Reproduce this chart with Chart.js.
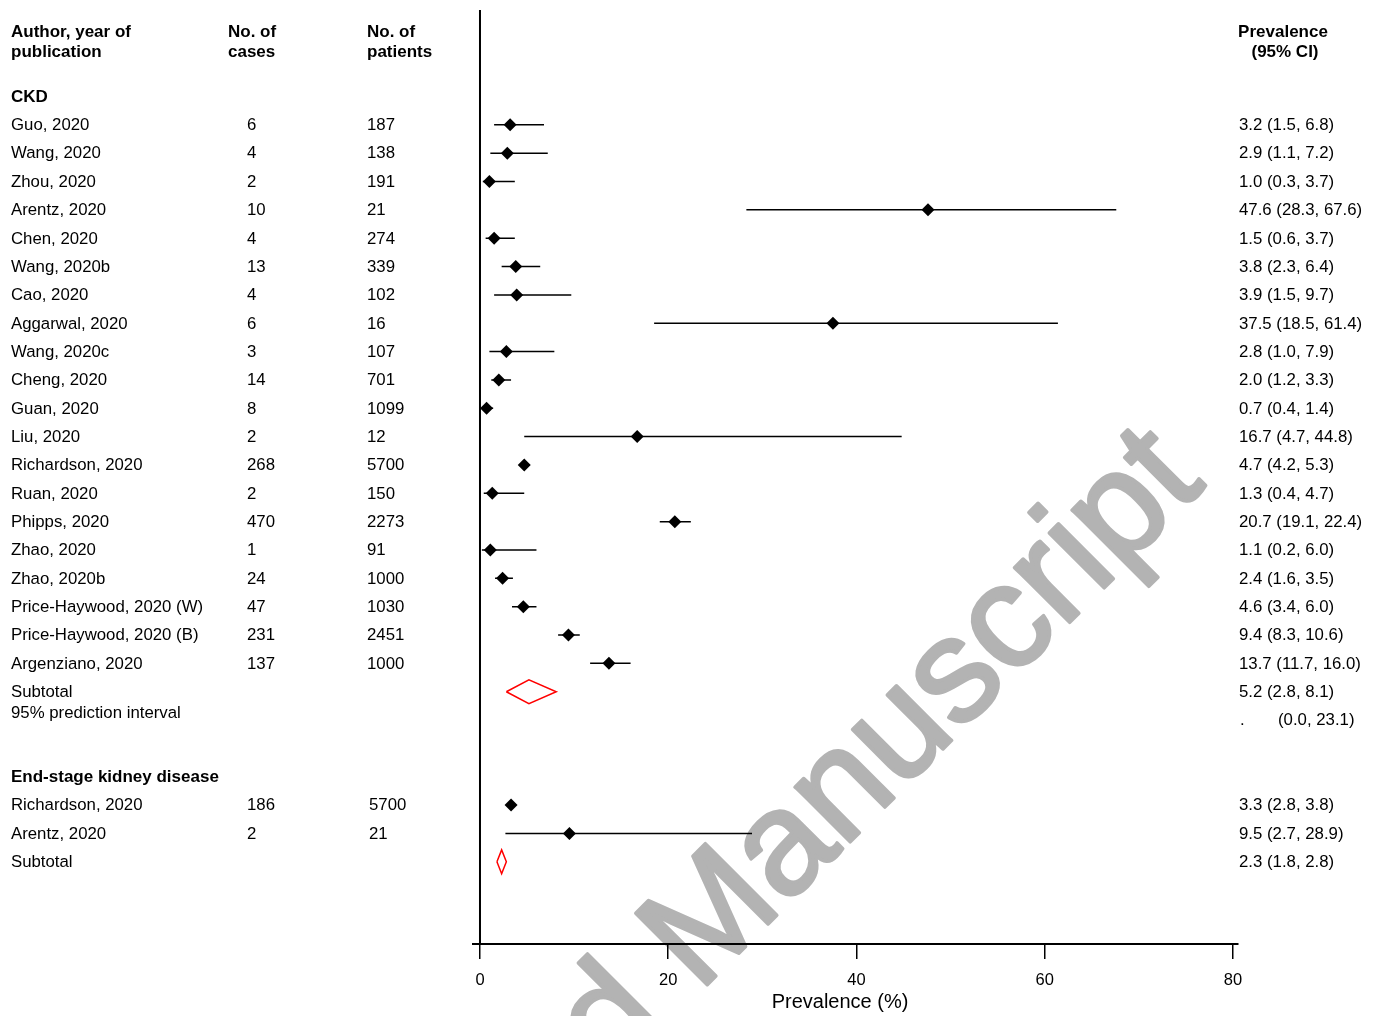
<!DOCTYPE html>
<html>
<head>
<meta charset="utf-8">
<title>Prevalence of kidney disease</title>
<script src="https://cdn.jsdelivr.net/npm/chart.js@4.4.1/dist/chart.umd.min.js"></script>
<style>
  html, body { margin: 0; padding: 0; background: #fff; }
  canvas { display: block; }
</style>
</head>
<body>
<canvas id="forest" width="1382" height="1016"></canvas>
<script>
// CKD studies
let ckdStudies = ['Guo, 2020', 'Wang, 2020', 'Zhou, 2020', 'Arentz, 2020', 'Chen, 2020', 'Wang, 2020b', 'Cao, 2020',
    'Aggarwal, 2020', 'Wang, 2020c', 'Cheng, 2020', 'Guan, 2020', 'Liu, 2020', 'Richardson, 2020', 'Ruan, 2020',
    'Phipps, 2020', 'Zhao, 2020', 'Zhao, 2020b', 'Price-Haywood, 2020 (W)', 'Price-Haywood, 2020 (B)', 'Argenziano, 2020'];
let ckdCases = [6, 4, 2, 10, 4, 13, 4, 6, 3, 14, 8, 2, 268, 2, 470, 1, 24, 47, 231, 137];
let ckdPatients = [187, 138, 191, 21, 274, 339, 102, 16, 107, 701, 1099, 12, 5700, 150, 2273, 91, 1000, 1030, 2451, 1000];
let ckdPrev = [3.2, 2.9, 1.0, 47.6, 1.5, 3.8, 3.9, 37.5, 2.8, 2.0, 0.7, 16.7, 4.7, 1.3, 20.7, 1.1, 2.4, 4.6, 9.4, 13.7];
let ckdLow = [1.5, 1.1, 0.3, 28.3, 0.6, 2.3, 1.5, 18.5, 1.0, 1.2, 0.4, 4.7, 4.2, 0.4, 19.1, 0.2, 1.6, 3.4, 8.3, 11.7];
let ckdHigh = [6.8, 7.2, 3.7, 67.6, 3.7, 6.4, 9.7, 61.4, 7.9, 3.3, 1.4, 44.8, 5.3, 4.7, 22.4, 6.0, 3.5, 6.0, 10.6, 16.0];

// end-stage kidney disease studies
let eskdStudies = ['Richardson, 2020', 'Arentz, 2020'];
let eskdCases = [186, 2];
let eskdPatients = [5700, 21];
let eskdPrev = [3.3, 9.5];
let eskdLow = [2.8, 2.7];
let eskdHigh = [3.8, 28.9];

// pooled estimates: CKD, end-stage
let subtotalPrev = [5.2, 2.3];
let subtotalLow = [2.8, 1.8];
let subtotalHigh = [8.1, 2.8];
let predictionLow = 0.0;
let predictionHigh = 23.1;

let xTicks = [0, 20, 40, 60, 80];

// row index of each line in the plot (0 = CKD header)
let ckdRows = ckdStudies.map((s, i) => i + 1);
let eskdRows = eskdStudies.map((s, i) => 25 + i);
let subtotalRows = [21, 27];

let studies = [];
ckdStudies.forEach((s, i) => studies.push({name: s, cases: ckdCases[i], patients: ckdPatients[i],
    prev: ckdPrev[i], low: ckdLow[i], high: ckdHigh[i], row: ckdRows[i]}));
eskdStudies.forEach((s, i) => studies.push({name: s, cases: eskdCases[i], patients: eskdPatients[i],
    prev: eskdPrev[i], low: eskdLow[i], high: eskdHigh[i], row: eskdRows[i]}));

let fmt = v => v.toFixed(1);

let pointData = studies.map(s => ({x: s.prev, y: s.row}));
let ciData = [];
studies.forEach(s => {
    ciData.push({x: s.low, y: s.row}, {x: s.high, y: s.row}, {x: null, y: null});
});
let diamondData = [];
subtotalPrev.forEach((p, i) => {
    let r = subtotalRows[i];
    diamondData.push({x: subtotalLow[i], y: r}, {x: p, y: r - 0.42}, {x: subtotalHigh[i], y: r},
        {x: p, y: r + 0.42}, {x: subtotalLow[i], y: r}, {x: null, y: null});
});

const FONT = '"Liberation Sans", Arial, sans-serif';

//text columns, watermark and the vertical axis line
const forestText = {
    id: 'forestText',
    beforeDraw(chart) {
        const ctx = chart.ctx;
        ctx.save();
        ctx.translate(1207, 485);
        ctx.rotate(-45 * Math.PI / 180);
        ctx.font = '147px ' + FONT;
        ctx.fillStyle = '#b3b3b3';
        ctx.strokeStyle = '#b3b3b3';
        ctx.lineWidth = 3.5;
        ctx.lineJoin = 'round';
        ctx.textAlign = 'right';
        ctx.textBaseline = 'alphabetic';
        ctx.fillText('Accepted Manuscript', 0, 0);
        ctx.strokeText('Accepted Manuscript', 0, 0);
        ctx.restore();
    },
    beforeDatasetsDraw(chart) {
        const {ctx, chartArea, scales: {x}} = chart;
        ctx.save();
        ctx.strokeStyle = '#000';
        ctx.lineWidth = 2;
        ctx.beginPath();
        ctx.moveTo(x.getPixelForValue(0), chartArea.top);
        ctx.lineTo(x.getPixelForValue(0), chartArea.bottom);
        ctx.stroke();
        ctx.restore();
    },
    afterDraw(chart) {
        const {ctx, scales: {y}} = chart;
        const py = r => y.getPixelForValue(r) + 0.7;
        ctx.save();
        ctx.fillStyle = '#000';
        ctx.textBaseline = 'middle';
        ctx.textAlign = 'left';

        // column headers
        ctx.font = 'bold 17px ' + FONT;
        ctx.fillText('Author, year of', 11, py(-2.27));
        ctx.fillText('publication', 11, py(-1.57));
        ctx.fillText('No. of', 228, py(-2.27));
        ctx.fillText('cases', 228, py(-1.57));
        ctx.fillText('No. of', 367, py(-2.27));
        ctx.fillText('patients', 367, py(-1.57));
        ctx.textAlign = 'center';
        ctx.fillText('Prevalence', 1283, py(-2.27));
        ctx.fillText('(95% CI)', 1285, py(-1.57));
        ctx.textAlign = 'left';
        ctx.fillText('CKD', 11, py(0));
        ctx.fillText('End-stage kidney disease', 11, py(24));

        ctx.font = '16.8px ' + FONT;
        studies.forEach(s => {
            ctx.fillText(s.name, 11, py(s.row));
            ctx.fillText(String(s.cases), 247, py(s.row));
            ctx.fillText(String(s.patients), s.row > 24 ? 369 : 367, py(s.row));
            ctx.fillText(fmt(s.prev) + ' (' + fmt(s.low) + ', ' + fmt(s.high) + ')', 1239, py(s.row));
        });
        subtotalRows.forEach((r, i) => {
            ctx.fillText('Subtotal', 11, py(r));
            ctx.fillText(fmt(subtotalPrev[i]) + ' (' + fmt(subtotalLow[i]) + ', ' + fmt(subtotalHigh[i]) + ')', 1239, py(r));
        });
        ctx.fillText('95% prediction interval', 11, py(21.75));
        ctx.fillText('.', 1240, py(22));
        ctx.fillText('(' + fmt(predictionLow) + ', ' + fmt(predictionHigh) + ')', 1278, py(22));

        // axis title
        ctx.font = '20px ' + FONT;
        ctx.textAlign = 'center';
        ctx.fillText('Prevalence (%)', 840, 1002);
        ctx.restore();
    }
};

const chart = new Chart(document.getElementById('forest').getContext('2d'), {
    type: 'scatter',
    data: {
        datasets: [{
            label: 'Prevalence',
            data: pointData,
            pointStyle: 'rectRot',
            pointRadius: 6.5,
            backgroundColor: '#000',
            borderColor: '#000',
            borderWidth: 0
        }, {
            label: '95% CI',
            data: ciData,
            showLine: true,
            spanGaps: false,
            pointRadius: 0,
            borderColor: '#000',
            borderWidth: 1.5
        }, {
            label: 'Subtotal',
            data: diamondData,
            showLine: true,
            spanGaps: false,
            pointRadius: 0,
            borderColor: '#ff0000',
            borderWidth: 1.5
        }]
    },
    options: {
        responsive: false,
        animation: false,
        layout: {padding: {left: 473.4, right: 144.3, top: 10, bottom: 0}},
        plugins: {
            legend: {display: false},
            tooltip: {enabled: false}
        },
        scales: {
            x: {
                type: 'linear',
                min: -0.7,
                max: 80.5,
                afterFit(scale) { scale.height = 72; },
                afterBuildTicks(scale) { scale.ticks = xTicks.map(v => ({value: v})); },
                ticks: {color: '#000', font: {family: FONT, size: 16.5}, padding: 12, maxRotation: 0},
                grid: {drawOnChartArea: false, drawTicks: true, tickLength: 15, color: '#000', lineWidth: 1.5},
                border: {display: true, color: '#000', width: 2}
            },
            y: {
                type: 'linear',
                min: -3.05,
                max: 29.9,
                reverse: true,
                display: false
            }
        }
    },
    plugins: [forestText]
});
</script>
</body>
</html>
